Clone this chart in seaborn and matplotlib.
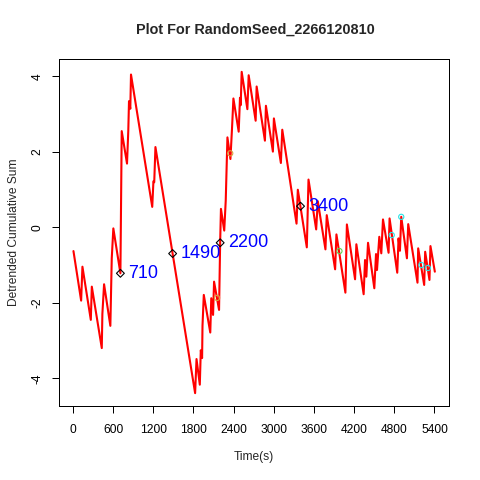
import numpy as np
import pandas as pd
import matplotlib
matplotlib.use("Agg")
import matplotlib.pyplot as plt
import seaborn as sns

# ---- data ----
time_s = [8.9, 123.6, 143, 268, 283, 431.9, 440.8, 466.1, 559.9, 580.8, 604.6, 710,
          729.7, 808.6, 828, 838.4, 857.8, 868.2, 1185.4, 1203.3, 1215.2, 1233.1,
          1825.8, 1846.6, 1895.8, 1910.6, 1930, 1936, 1955.3, 2052.1, 2067, 2093.8,
          2108.7, 2183.2, 2199.6, 2211.5, 2260.6, 2283, 2308.3, 2353, 2376.8, 2397.6,
          2476.5, 2495.9, 2506.3, 2521.2, 2606.1, 2625.5, 2729.7, 2744.6, 2868.2,
          2883.1, 2987.3, 3002.2, 3106.5, 3127.3, 3340.3, 3359.6, 3493.7, 3519,
          3633.7, 3657.5, 3772.1, 3791.5, 3916.6, 3936, 4070, 4092.3, 4214.4, 4233.8,
          4342.5, 4363.4, 4382.7, 4408, 4501.9, 4527.2, 4542.1, 4576.3, 4606.1,
          4631.4, 4714.8, 4729.7, 4844.4, 4863.7, 4884.6, 4903.9, 4988.8, 5008.2,
          5146.7, 5157.1, 5246.5, 5261.4, 5325.4, 5340.3, 5405.8]
cum_sum = [-0.626, -1.938, -1.040, -2.448, -1.568, -3.195, -2.289, -1.505, -2.606,
           -0.818, -0.026, -1.215, 2.550, 1.690, 2.569, 3.343, 3.142, 4.048, 0.544,
           1.222, 1.196, 2.128, -4.388, -3.485, -4.164, -3.253, -3.459, -2.606,
           -1.787, -2.783, -1.875, -2.316, -1.436, -2.184, -0.407, 0.491, -0.084,
           0.713, 2.384, 1.811, 2.622, 3.414, 2.535, 3.432, 3.237, 4.119, 3.131,
           4.029, 2.825, 3.731, 2.297, 3.221, 2.007, 2.886, 1.706, 2.587, 0.100,
           0.998, -0.528, 1.267, -0.053, 0.694, -0.581, 0.325, -1.109, -0.185,
           -1.727, 0.079, -1.373, -0.446, -1.769, -0.863, -1.304, -0.407, -1.611,
           -0.705, -1.127, -0.248, -0.686, 0.211, -0.671, 0.238, -1.199, -0.290,
           -0.618, 0.280, -0.818, 0.087, -1.463, -0.554, -1.523, -0.644, -1.391,
           -0.494, -1.172]

# labelled change points (black diamonds)
cp_times = [710, 1490, 2200, 3400]
cp_values = [-1.215, -0.692, -0.407, 0.562]
cp_labels = ["710", "1490", "2200", "3400"]

# small coloured circles
orange_times = [2153, 2350]
orange_values = [-1.867, 1.962]
green_times = [3981]
green_values = [-0.626]
cyan_times = [4762, 4904, 5205, 5302]
cyan_values = [-0.203, 0.280, -0.995, -1.075]

x_ticks = [0, 600, 1200, 1800, 2400, 3000, 3600, 4200, 4800, 5400]
y_ticks = [-4, -2, 0, 2, 4]

title = "Plot For RandomSeed_2266120810"
x_label = "Time(s)"
y_label = "Detrended Cumulative Sum"

# ---- plotting ----
sns.set_style("white")
plt.rcParams["font.family"] = ["Liberation Sans", "DejaVu Sans"]

df = pd.DataFrame({"t": time_s, "v": cum_sum})

fig = plt.figure(figsize=(4.8, 4.8), dpi=100)
ax = fig.add_axes([59 / 480, 74 / 480, 390.3 / 480, 347 / 480])

sns.lineplot(data=df, x="t", y="v", sort=False, estimator=None, ax=ax,
             color="red", linewidth=1.5, zorder=2)

ax.scatter(orange_times, orange_values, s=14, facecolors="none",
           edgecolors="#D9A23A", linewidths=0.8, zorder=3)
ax.scatter(green_times, green_values, s=14, facecolors="none",
           edgecolors="#61D04F", linewidths=0.8, zorder=3)
ax.scatter(cyan_times, cyan_values, s=14, facecolors="none",
           edgecolors="#28E2E5", linewidths=0.8, zorder=3)
ax.scatter(cp_times, cp_values, s=16, marker="D", facecolors="none",
           edgecolors="black", linewidths=0.8, zorder=4)
for t, v, lab in zip(cp_times, cp_values, cp_labels):
    ax.annotate(lab, (t, v), xytext=(5.5, 0), textcoords="offset points",
                ha="left", va="center", color="blue", fontsize=13, zorder=5)

# R-style 4% padding
xr = max(time_s) - min(time_s)
yr = max(cum_sum) - min(cum_sum)
ax.set_xlim(min(time_s) - 0.04 * xr, max(time_s) + 0.04 * xr)
ax.set_ylim(min(cum_sum) - 0.04 * yr, max(cum_sum) + 0.04 * yr)

ax.set_xticks(x_ticks)
ax.set_xticklabels([str(v) for v in x_ticks])
ax.set_yticks(y_ticks)
ax.set_yticklabels([str(v) for v in y_ticks], rotation=90, va="center")

ax.tick_params(axis="both", which="major", bottom=True, left=True,
               top=False, right=False, direction="out", length=5.2,
               width=0.72, color="black", labelcolor="black", labelsize=8.64)
ax.tick_params(axis="x", pad=7.5)
ax.tick_params(axis="y", pad=6)
for sp in ax.spines.values():
    sp.set_visible(True)
    sp.set_color("black")
    sp.set_linewidth(0.72)

ax.set_xlabel(x_label, fontsize=8.64)
ax.set_ylabel(y_label, fontsize=8.64)
ax.xaxis.set_label_coords(0.5, -0.13)
ax.yaxis.set_label_coords(-0.10, 0.5)

fig.text(255 / 480, 1 - 30 / 480, title, ha="center", va="center",
         fontsize=10.4, fontweight="bold")

fig.savefig("out.png", dpi=100, facecolor="white")
